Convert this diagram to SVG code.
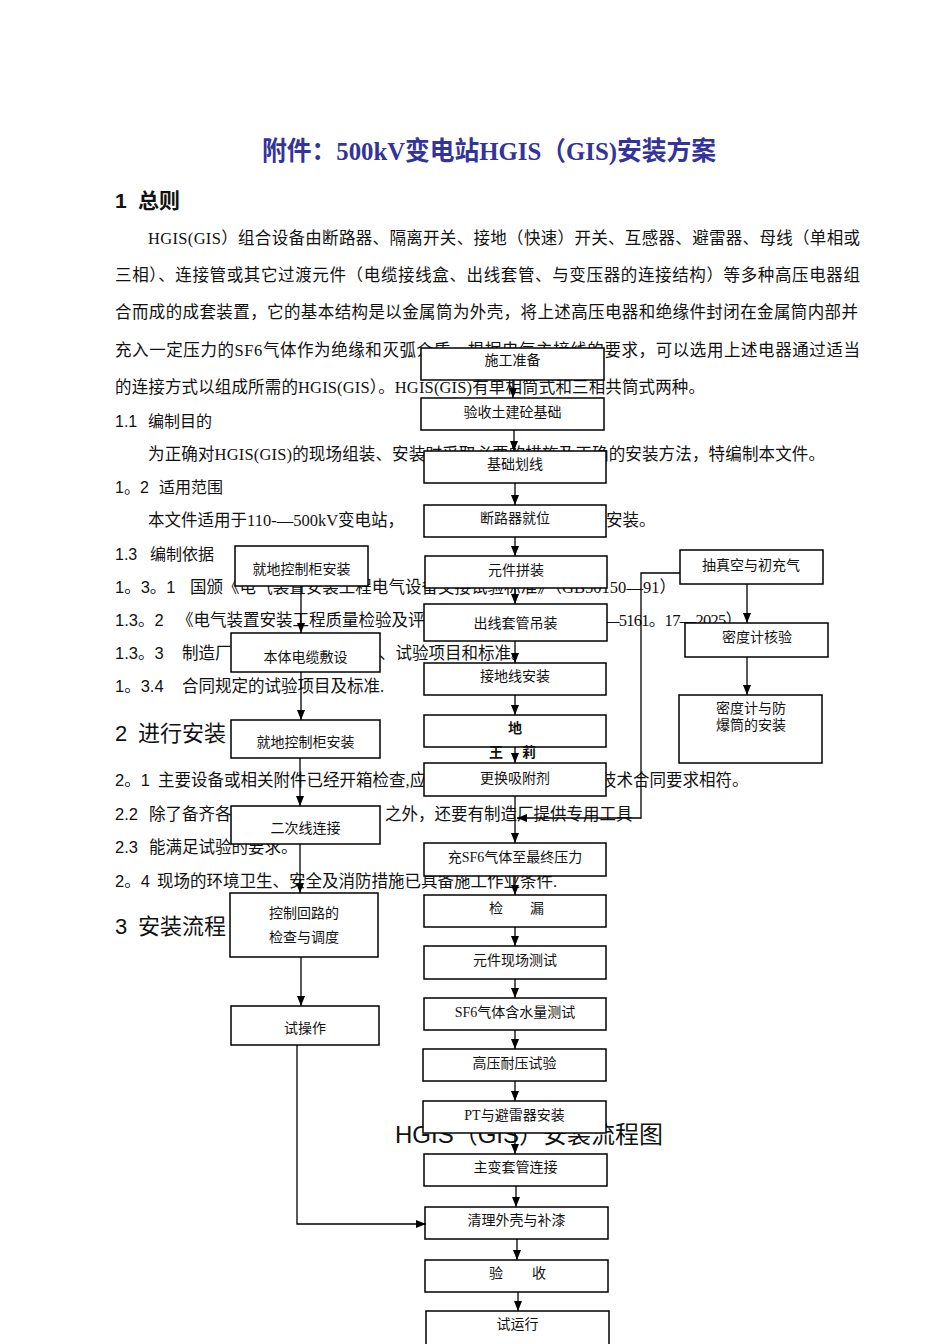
<svg xmlns="http://www.w3.org/2000/svg" width="950" height="1344" viewBox="0 0 950 1344">
<style>
.t{font-family:'Liberation Serif','Noto Sans CJK SC',serif;font-size:16.5px;fill:#111}
.n{font-family:'Liberation Sans','Noto Sans CJK SC',sans-serif}
.h{font-family:'Liberation Sans','Noto Sans CJK SC',sans-serif;font-size:16px;fill:#111}
.h2{font-family:'Liberation Sans','Noto Sans CJK SC',sans-serif;font-size:22px;fill:#111}
.title{font-family:'Liberation Serif','Noto Sans CJK SC',serif;font-size:26px;font-weight:bold;fill:#33339a}
.box{fill:#fff;stroke:#000;stroke-width:1.5}
.bt{font-family:'Liberation Serif','Noto Sans CJK SC',serif;font-size:14px;text-anchor:middle;fill:#111}
.c{fill:none;stroke:#000;stroke-width:1.3}
</style>
<defs>
<marker id="ah" markerUnits="userSpaceOnUse" markerWidth="10" markerHeight="8" refX="10" refY="4" orient="auto">
<path d="M0,0 L10,4 L0,8 z" fill="#000"/>
</marker>
</defs>
<rect width="950" height="1344" fill="#fff"/>

<g id="document-text">
<text class="title" x="262" y="160" textLength="454" lengthAdjust="spacingAndGlyphs">附件：500kV变电站HGIS（GIS)安装方案</text>
<text class="h2" x="115" y="208" font-weight="bold" style="font-size:21px">1<tspan x="138">总则</tspan></text>
<text class="t" x="148" y="244" textLength="712" lengthAdjust="spacing">HGIS(GIS）组合设备由断路器、隔离开关、接地（快速）开关、互感器、避雷器、母线（单相或</text>
<text class="t" x="115" y="281" textLength="745" lengthAdjust="spacing">三相）、连接管或其它过渡元件（电缆接线盒、出线套管、与变压器的连接结构）等多种高压电器组</text>
<text class="t" x="115" y="318" textLength="743" lengthAdjust="spacing">合而成的成套装置，它的基本结构是以金属筒为外壳，将上述高压电器和绝缘件封闭在金属筒内部并</text>
<text class="t" x="115" y="356" textLength="745" lengthAdjust="spacing">充入一定压力的SF6气体作为绝缘和灭弧介质，根据电气主接线的要求，可以选用上述电器通过适当</text>
<text class="t" x="115" y="393" textLength="590" lengthAdjust="spacing">的连接方式以组成所需的HGIS(GIS）。HGIS(GIS)有单相筒式和三相共筒式两种。</text>
<text class="h" x="115" y="427">1.1<tspan x="148">编制目的</tspan></text>
<text class="t" x="148" y="460" textLength="677" lengthAdjust="spacing">为正确对HGIS(GIS)的现场组装、安装时采取必要的措施及正确的安装方法，特编制本文件。</text>
<text class="h" x="115" y="493">1。2<tspan x="159">适用范围</tspan></text>
<text class="t" x="148" y="526">本文件适用于110-—500kV变电站，</text>
<text class="t" x="606" y="526">安装。</text>
<text class="h" x="115" y="560">1.3<tspan x="150">编制依据</tspan></text>
<text class="t" x="115" y="593"><tspan class="n">1。3。1</tspan><tspan x="190" textLength="486" lengthAdjust="spacing">国颁《电气装置安装工程电气设备交接试验标准》（GB50150—91）</tspan></text>
<text class="t" x="115" y="626"><tspan class="n">1.3。2</tspan><tspan x="177">《电气装置安装工程质量检验及评</tspan></text>
<text class="t" x="603" y="626" textLength="139" lengthAdjust="spacing">—5161。17—2025）</text>
<text class="t" x="115" y="659"><tspan class="n">1.3。3</tspan><tspan x="182">制造厂</tspan></text>
<text class="t" x="379" y="659">、试验项目和标准。</text>
<text class="t" x="115" y="692"><tspan class="n">1。3.4</tspan><tspan x="182">合同规定的试验项目及标准.</tspan></text>
<text class="h2" x="115" y="741">2<tspan x="138">进行安装</tspan></text>
<text class="t" x="115" y="786"><tspan class="n">2。1</tspan><tspan x="158">主要设备或相关附件已经开箱检查,应</tspan></text>
<text class="t" x="600" y="786">技术合同要求相符。</text>
<text class="t" x="115" y="820"><tspan class="n">2.2</tspan><tspan x="149">除了备齐各</tspan></text>
<text class="t" x="385" y="820">之外，还要有制造厂提供专用工具</text>
<text class="t" x="115" y="853"><tspan class="n">2.3</tspan><tspan x="149">能满足试验的要求。</tspan></text>
<text class="t" x="115" y="887"><tspan class="n">2。4</tspan><tspan x="157">现场的环境卫生、安全及消防措施已具备施工作业条件.</tspan></text>
<text class="h2" x="115" y="934">3<tspan x="138">安装流程</tspan></text>
<text class="h2" x="395" y="1143" style="font-size:24px">HGIS（GIS）安装流程图</text>
</g>

<g id="n1"><rect class="box" x="421" y="348" width="183" height="32"/><text class="bt" x="512.5" y="365">施工准备</text></g>
<g id="n2"><rect class="box" x="421" y="398" width="183" height="32"/><text class="bt" x="512.5" y="417">验收土建砼基础</text></g>
<g id="n3"><rect class="box" x="424" y="451" width="182" height="32"/><text class="bt" x="515" y="469">基础划线</text></g>
<g id="n4"><rect class="box" x="424" y="505" width="182" height="32"/><text class="bt" x="515" y="523">断路器就位</text></g>
<g id="n5"><rect class="box" x="425" y="556" width="182" height="32"/><text class="bt" x="516" y="575">元件拼装</text></g>
<g id="n6"><rect class="box" x="424" y="604" width="183" height="37"/><text class="bt" x="515.5" y="628">出线套管吊装</text></g>
<g id="n7"><rect class="box" x="424" y="663" width="182" height="32"/><text class="bt" x="515" y="681">接地线安装</text></g>
<g id="n8"><rect class="box" x="424" y="715" width="182" height="32"/><text class="bt" x="515" y="733" font-weight="bold">地</text></g>
<g id="n9"><rect class="box" x="424" y="763" width="182" height="33"/><text class="bt" x="515" y="783">更换吸附剂</text></g>
<g id="n10"><rect class="box" x="424" y="843" width="182" height="33"/><text class="bt" x="515" y="862">充SF6气体至最终压力</text></g>
<g id="n11"><rect class="box" x="424" y="895" width="182" height="32"/><text class="bt" y="913"><tspan x="496">检</tspan><tspan x="537">漏</tspan></text></g>
<g id="n12"><rect class="box" x="424" y="946" width="182" height="33"/><text class="bt" x="515" y="965">元件现场测试</text></g>
<g id="n13"><rect class="box" x="424" y="998" width="182" height="32"/><text class="bt" x="515" y="1017">SF6气体含水量测试</text></g>
<g id="n14"><rect class="box" x="423" y="1049" width="183" height="32"/><text class="bt" x="514.5" y="1068">高压耐压试验</text></g>
<g id="n15"><rect class="box" x="423" y="1101" width="183" height="32"/><text class="bt" x="514.5" y="1120">PT与避雷器安装</text></g>
<g id="n16"><rect class="box" x="424" y="1154" width="183" height="32"/><text class="bt" x="515.5" y="1172">主变套管连接</text></g>
<g id="n17"><rect class="box" x="425" y="1207" width="183" height="32"/><text class="bt" x="516.5" y="1225">清理外壳与补漆</text></g>
<g id="n18"><rect class="box" x="425" y="1260" width="183" height="32"/><text class="bt" y="1278"><tspan x="496">验</tspan><tspan x="539">收</tspan></text></g>
<g id="n19"><rect class="box" x="426" y="1311" width="183" height="40"/><text class="bt" x="517.5" y="1329">试运行</text></g>

<g id="a1"><rect class="box" x="235" y="546" width="133" height="40"/><text class="bt" x="301.5" y="574">就地控制柜安装</text></g>
<g id="a2"><rect class="box" x="231" y="633" width="149" height="39"/><text class="bt" x="305.5" y="662">本体电缆敷设</text></g>
<g id="a3"><rect class="box" x="231" y="720" width="149" height="38"/><text class="bt" x="305.5" y="747">就地控制柜安装</text></g>
<g id="a4"><rect class="box" x="231" y="806" width="149" height="38"/><text class="bt" x="305.5" y="833">二次线连接</text></g>
<g id="a5"><rect class="box" x="230" y="893" width="148" height="64"/><text class="bt" x="304" y="918">控制回路的</text><text class="bt" x="304" y="942">检查与调度</text></g>
<g id="a6"><rect class="box" x="231" y="1006" width="148" height="39"/><text class="bt" x="305" y="1033">试操作</text></g>

<g id="r1"><rect class="box" x="680" y="550" width="143" height="34"/><text class="bt" x="751" y="570">抽真空与初充气</text></g>
<g id="r2"><rect class="box" x="685" y="623" width="143" height="34"/><text class="bt" x="757" y="642">密度计核验</text></g>
<g id="r3"><rect class="box" x="679" y="695" width="143" height="68"/><text class="bt" x="751" y="713">密度计与防</text><text class="bt" x="751" y="730">爆筒的安装</text></g>

<g id="connectors" class="c" marker-end="url(#ah)">
<path d="M513,380 V398"/>
<path d="M514,430 V451"/>
<path d="M515,483 V505"/>
<path d="M515,537 V556"/>
<path d="M515,588 V604"/>
<path d="M515,641 V663"/>
<path d="M515,695 V715"/>
<path d="M515,747 V763"/>
<path d="M515,796 V843"/>
<path d="M515,876 V895"/>
<path d="M515,927 V946"/>
<path d="M515,979 V998"/>
<path d="M515,1030 V1049"/>
<path d="M515,1081 V1101"/>
<path d="M515,1133 V1154"/>
<path d="M516,1186 V1207"/>
<path d="M517,1239 V1260"/>
<path d="M518,1292 V1311"/>
<path d="M301,586 V633"/>
<path d="M301,672 V720"/>
<path d="M300,758 V806"/>
<path d="M300,844 V893"/>
<path d="M301,957 V1006"/>
<path d="M297,1045 V1224 H426"/>
<path d="M747,584 V623"/>
<path d="M747,657 V695"/>
<path d="M680,573 H641 V818 H517"/>
</g>

<g id="annotation">
<text class="bt" font-weight="bold" y="757"><tspan x="496">王</tspan><tspan x="529">莉</tspan></text>
</g>
</svg>
